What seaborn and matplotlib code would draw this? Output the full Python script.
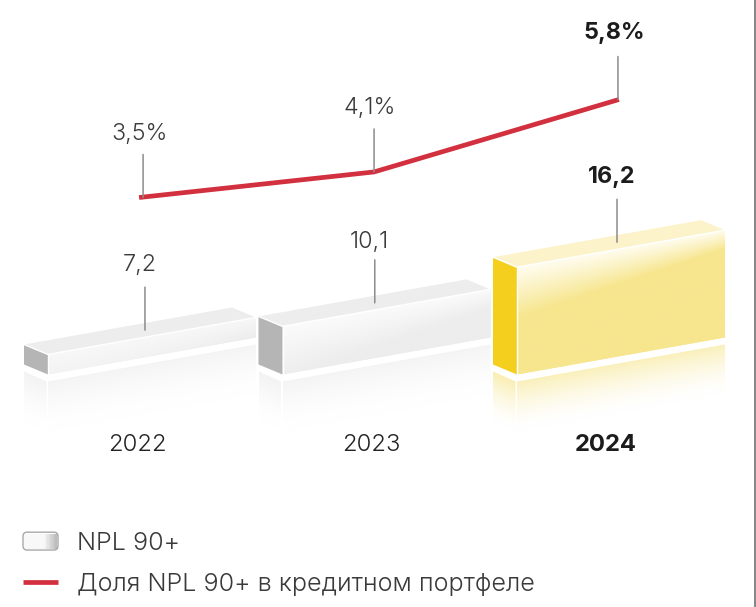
import numpy as np
import pandas as pd
import matplotlib
matplotlib.use("Agg")
import matplotlib.pyplot as plt
import seaborn as sns
from matplotlib.colors import to_rgb
from matplotlib.legend_handler import HandlerBase
from matplotlib.lines import Line2D
from matplotlib.patches import FancyBboxPatch, Patch, Polygon, Rectangle

# ---- data -----------------------------------------------------------------
years = ["2022", "2023", "2024"]
npl_values = [7.2, 10.1, 16.2]
npl_labels = ["7,2", "10,1", "16,2"]
share_values = [3.5, 4.1, 5.8]
share_labels = ["3,5%", "4,1%", "5,8%"]
legend_labels = ["NPL 90+", "Доля NPL 90+ в кредитном портфеле"]

# ---- style ----------------------------------------------------------------
W, H = 756, 607
FONT = ["Inter", "DejaVu Sans"]
TEXT = "#3a3a3a"
BOLD = "#1c1c1c"
RED = "#d2303f"
GUIDE = "#8c8c8c"
front_colors = ["#ededed", "#ededed", "#f7e68e"]
top_colors = ["#ededed", "#ededed", "#fcf3cb"]
side_colors = ["#b5b5b5", "#b5b5b5", "#f4cf1e"]
sheen_colors = ["#f8f8f8", "#fbfbfb", "#fffdf2"]
bold_flags = [False, False, True]

sns.set_theme(style="white")
plt.rcParams["font.family"] = FONT

# Pixel geometry of the axes: category spacing and value scale
CAT_PX = 234.5
CAT0_PX = 152.0
VAL_PX = 9.7
BASE_VALUE = 5.14
BASE_PY = 374.5
BAR_WIDTH = 208 / CAT_PX
SLOPE = 0.178 * CAT_PX / VAL_PX      # value units of rise per category
DEPTH_X = 24 / CAT_PX
DEPTH_Y = 10 / VAL_PX
GAP_Y = 7 / VAL_PX
REFLECT_Y = 50 / VAL_PX
PT = 0.72                            # points per pixel at 100 dpi

fig = plt.figure(figsize=(W / 100, H / 100), dpi=100, facecolor="white")
ax = fig.add_axes([0, 0, 1, 1])
xlim = (-CAT0_PX / CAT_PX, (W - CAT0_PX) / CAT_PX)
ylim = (BASE_VALUE - (H - BASE_PY) / VAL_PX, BASE_VALUE + BASE_PY / VAL_PX)

df = pd.DataFrame({"year": years, "npl": npl_values})
sns.barplot(data=df, x="year", y="npl", hue="year", palette=front_colors,
            width=BAR_WIDTH, legend=False, ax=ax, zorder=2)
ax.set_xlim(xlim)
ax.set_ylim(ylim)


def gradient(ax, x0, x1, y0, y1, rgba_fn, clip, zorder):
    nx, ny = 120, 200
    xs = np.linspace(x0, x1, nx)
    ys = np.linspace(y0, y1, ny)
    X, Y = np.meshgrid(xs, ys)
    im = ax.imshow(rgba_fn(X, Y), extent=(x0, x1, y0, y1), origin="lower",
                   aspect="auto", interpolation="bilinear", zorder=zorder)
    im.set_clip_path(clip)


def mix(a, b, t):
    a, b = np.array(to_rgb(a)), np.array(to_rgb(b))
    return a + (b - a) * t[..., None]


for bar, fc, tc, sc, sh in zip(list(ax.patches), front_colors, top_colors, side_colors, sheen_colors):
    xl = bar.get_x()
    xr = xl + bar.get_width()
    w = bar.get_width()
    rise = w * SLOPE
    v = bar.get_height()
    bar.set_visible(False)

    # front face: sheen falling diagonally from the top-left corner
    front = Polygon([(xl, BASE_VALUE), (xr, BASE_VALUE + rise), (xr, v + rise), (xl, v)],
                    closed=True, facecolor=fc, edgecolor="none", zorder=2)
    ax.add_patch(front)

    def front_fn(X, Y, xl=xl, w=w, v=v, fc=fc, sh=sh):
        top = v + (X - xl) * SLOPE
        fade = 52.0 - 32.0 * (X - xl) / w
        t = np.clip((top - Y) * VAL_PX / fade, 0, 1)
        return mix(sh, fc, t)
    gradient(ax, xl, xr, BASE_VALUE, v + rise, front_fn, front, 3)

    # top face
    ax.add_patch(Polygon([(xl, v), (xr, v + rise),
                          (xr - DEPTH_X, v + rise + DEPTH_Y), (xl - DEPTH_X, v + DEPTH_Y)],
                         closed=True, facecolor=tc, edgecolor="none", zorder=2))
    # side face
    ax.add_patch(Polygon([(xl, BASE_VALUE), (xl, v),
                          (xl - DEPTH_X, v + DEPTH_Y), (xl - DEPTH_X, BASE_VALUE + DEPTH_Y)],
                         closed=True, facecolor=sc, edgecolor="none", zorder=2))
    # white seams
    ax.plot([xl - DEPTH_X, xl, xr], [v + DEPTH_Y, v, v + rise], color="white", lw=1.0, zorder=4)
    ax.plot([xl, xl], [BASE_VALUE, v], color="white", lw=1.0, zorder=4)

    # reflection beneath the bar
    refl_front = Polygon([(xl, BASE_VALUE - GAP_Y), (xr, BASE_VALUE - GAP_Y + rise),
                          (xr, BASE_VALUE - GAP_Y + rise - REFLECT_Y),
                          (xl, BASE_VALUE - GAP_Y - REFLECT_Y)],
                         closed=True, facecolor="none", edgecolor="none", zorder=1)
    ax.add_patch(refl_front)

    def refl_fn(X, Y, xl=xl, fc=fc):
        top = BASE_VALUE - GAP_Y + (X - xl) * SLOPE
        t = np.clip((top - Y) / REFLECT_Y, 0, 1)
        return mix(fc, "#ffffff", 1 - (1 - t) ** 1.6 * 0.62)
    gradient(ax, xl, xr, BASE_VALUE - GAP_Y - REFLECT_Y, BASE_VALUE - GAP_Y + rise,
             refl_fn, refl_front, 1)

    refl_side = Polygon([(xl - 1.5 / CAT_PX, BASE_VALUE - GAP_Y), (xl - DEPTH_X, BASE_VALUE - GAP_Y + DEPTH_Y),
                         (xl - DEPTH_X, BASE_VALUE - GAP_Y - REFLECT_Y + DEPTH_Y),
                         (xl - 1.5 / CAT_PX, BASE_VALUE - GAP_Y - REFLECT_Y)],
                        closed=True, facecolor="none", edgecolor="none", zorder=1)
    ax.add_patch(refl_side)

    def side_fn(X, Y, xl=xl, fc=fc):
        top = BASE_VALUE - GAP_Y - (X - xl) / DEPTH_X * DEPTH_Y
        t = np.clip((top - Y) / REFLECT_Y, 0, 1)
        return mix(fc, "#ffffff", 1 - (1 - t) ** 1.6 * 0.7)
    gradient(ax, xl - DEPTH_X, xl, BASE_VALUE - GAP_Y - REFLECT_Y, BASE_VALUE - GAP_Y + DEPTH_Y,
             side_fn, refl_side, 1)

ax.set_xlim(xlim)
ax.set_ylim(ylim)
ax.set_xticks([])
ax.set_yticks([])
ax.set_xlabel("")
ax.set_ylabel("")
sns.despine(ax=ax, left=True, bottom=True)
# thin frame line along the right edge of the picture
ax.axvline(xlim[0] + 754.8 / CAT_PX, color="#7d7d7d", lw=1.3, zorder=9)

# Line on its own value scale
SHARE_PX = 42.6
ax2 = ax.twinx()
ax2.set_position([0, 0, 1, 1])
share_line_dx = [-0.055, -0.053, -0.009]
line_x = np.arange(3) + np.array(share_line_dx)
ldf = pd.DataFrame({"x": line_x, "share": share_values})
sns.lineplot(data=ldf, x="x", y="share", color=RED, lw=3.4, ax=ax2, legend=False,
             solid_capstyle="butt", solid_joinstyle="round", zorder=6)
ax2.set_xlim(xlim)
ax2.set_ylim(3.5 - (H - 197.5) / SHARE_PX, 3.5 + 197.5 / SHARE_PX)
ax2.set_xticks([])
ax2.set_yticks([])
ax2.set_xlabel("")
ax2.set_ylabel("")
ax2.patch.set_visible(False)
sns.despine(ax=ax2, left=True, bottom=True, right=True)

FS = 16.8
YEAR_FS = 17.2
LEGEND_FS = 18.1
NORMAL_WEIGHT = 300
# bar connectors and value labels
bar_guide_dx = [-0.03, -0.05, -0.017]
bar_text_gap = [65, 61, 65]
line_guide_dx = [0.017, 0.0, -0.004]
for i, (lab, v, bold) in enumerate(zip(npl_labels, npl_values, bold_flags)):
    gx = i + bar_guide_dx[i]
    xl = i - BAR_WIDTH / 2
    gy = v + (gx - xl) * SLOPE + DEPTH_Y / 2 + DEPTH_X * SLOPE / 2
    ax.annotate("", xy=(gx, gy), xytext=(0, 43 * PT), textcoords="offset points",
                xycoords="data", zorder=7,
                arrowprops=dict(arrowstyle="-", color=GUIDE, lw=1.1, shrinkA=0, shrinkB=0))
    ax.annotate(lab, xy=(gx, gy), xytext=(-5 * PT, bar_text_gap[i] * PT), textcoords="offset points",
                ha="center", va="center", fontsize=FS, color=BOLD if bold else TEXT,
                fontweight="bold" if bold else NORMAL_WEIGHT, zorder=8)

share_text_gap = [64, 64, 67]
for i, (lab, v, bold) in enumerate(zip(share_labels, share_values, bold_flags)):
    gx = line_x[i] + line_guide_dx[i]
    ax2.annotate("", xy=(gx, v), xytext=(0, 43 * PT), textcoords="offset points",
                 zorder=7, arrowprops=dict(arrowstyle="-", color=GUIDE, lw=1.1, shrinkA=0, shrinkB=0))
    ax2.annotate(lab, xy=(gx, v), xytext=(-4 * PT, share_text_gap[i] * PT), textcoords="offset points",
                 ha="center", va="center", fontsize=FS, color=BOLD if bold else TEXT,
                 fontweight="bold" if bold else NORMAL_WEIGHT, zorder=8)

# category labels
for i, (year, bold) in enumerate(zip(years, bold_flags)):
    ax.annotate(year, xy=(i, BASE_VALUE), xytext=(-15 * PT, -70.5 * PT), textcoords="offset points",
                ha="center", va="center", fontsize=YEAR_FS, color=BOLD if bold else "#222222",
                fontweight="bold" if bold else NORMAL_WEIGHT)


class GradientBoxHandler(HandlerBase):
    def create_artists(self, legend, orig, xd, yd, width, height, fontsize, trans):
        artists = []
        n = 24
        for k in range(n):
            t = k / (n - 1)
            c = mix("#f8f8f8", "#bdbdbd", np.array(max(0.0, (t - 0.6) / 0.4)))
            artists.append(Rectangle((-xd + 1 + (width - 2) * k / n, -yd + 1), (width - 2) / n + 0.2, height - 2,
                                     facecolor=c, edgecolor="none", transform=trans))
        artists.append(FancyBboxPatch((-xd + 1.5, -yd + 1.5), width - 3, height - 3,
                                      boxstyle="round,pad=1.5,rounding_size=3", facecolor="none",
                                      edgecolor="#a8a8a8", lw=1.0, transform=trans))
        return artists


box_handle = Patch(facecolor="#eeeeee", edgecolor="#a8a8a8")
line_handle = Line2D([0], [0], color=RED, lw=3.4, solid_capstyle="butt")
leg = ax2.legend([box_handle, line_handle], legend_labels,
                 handler_map={Patch: GradientBoxHandler()},
                 loc="lower left", bbox_to_anchor=(23 / W, (H - 596) / H),
                 bbox_transform=fig.transFigure, frameon=False,
                 prop={"size": LEGEND_FS, "family": FONT, "weight": NORMAL_WEIGHT}, labelcolor=TEXT,
                 borderaxespad=0, borderpad=0, handlelength=35 * PT / LEGEND_FS,
                 handleheight=18 * PT / LEGEND_FS, handletextpad=19 * PT / LEGEND_FS,
                 labelspacing=0.72)

fig.savefig("out.png", dpi=100, facecolor="white")
